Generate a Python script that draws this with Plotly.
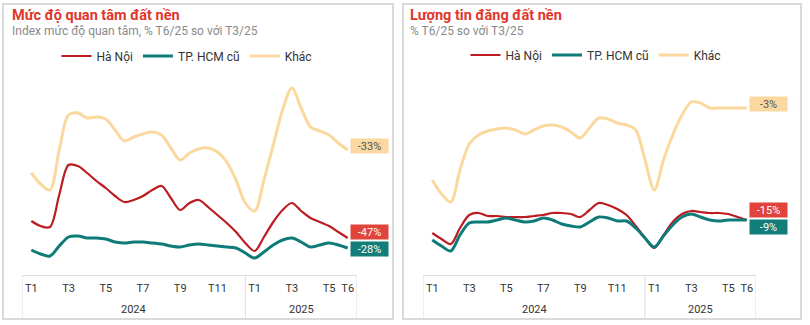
import plotly.graph_objects as go

# ---- data ----
months = [i * 0.5 for i in range(35)]  # 0 = T1/2024 ... 17 = T6/2025 (semi-monthly points)
tick_vals = [0, 2, 4, 6, 8, 10, 12, 14, 16, 17]
tick_text = ["T1", "T3", "T5", "T7", "T9", "T11", "T1", "T3", "T5", "T6"]
years = ["2024", "2025"]
series_names = ["Hà Nội", "TP. HCM cũ", "Khác"]

# Panel 1: Mức độ quan tâm (index)
interest_hn = [54, 49, 48, 80, 110, 109, 102, 94, 87, 79, 73, 75, 79, 85, 89, 77, 65, 72, 75, 68,
               60, 52, 43, 32, 24, 38, 53, 65, 72, 64, 57, 53, 49, 43, 37]
interest_hcm = [25, 21, 19, 29, 38, 39, 37, 37, 36, 33, 32, 33, 33, 32, 31, 29, 28, 30, 31, 30,
                29, 28, 27, 22, 17, 23, 30, 35, 37, 33, 28, 30, 32, 30, 27]
interest_other = [102, 91, 85, 125, 160, 162, 157, 158, 156, 145, 134, 138, 141, 143, 140, 127, 115, 122, 126, 127,
                  123, 113, 95, 72, 64, 95, 130, 165, 187, 167, 148, 144, 140, 132, 125]
interest_labels = ["-47%", "-28%", "-33%"]

# Panel 2: Lượng tin đăng
listing_hn = [42, 36, 31, 47, 60, 62, 59, 59, 58, 58, 58, 59, 60, 62, 62, 61, 58, 65, 72, 70,
              66, 60, 49, 37, 27, 40, 53, 61, 64, 63, 62, 62, 61, 58, 55]
listing_hcm = [35, 29, 24, 40, 52, 53, 53, 55, 57, 55, 53, 54, 57, 55, 51, 49, 48, 53, 58, 57,
               54, 54, 47, 37, 28, 39, 50, 58, 61, 58, 55, 54, 55, 55, 55]
listing_other = [95, 81, 73, 105, 131, 140, 144, 146, 147, 145, 141, 145, 149, 150, 148, 143, 137, 147, 157, 156,
                 152, 150, 145, 115, 85, 115, 140, 160, 173, 172, 167, 167, 167, 167, 167]
listing_labels = ["-15%", "-9%", "-3%"]

# ---- styles ----
W, H = 810, 325
FONT = "Roboto"
line_colors = ["#BC1B20", "#0F7B78", "#FAD89E"]
line_widths = [2.2, 3, 3]
box_colors = ["#E0443A", "#137D7A", "#FAD8A0"]
box_text_colors = ["white", "white", "#555555"]
interest_shift = [6, -1, 4]
listing_shift = [10, -7, 4]

def px(x):
    return x / W

def py(y):
    return 1 - y / H

fig = go.Figure()

panels = [
    dict(xa="x", ya="y", legend="legend", data=[interest_hn, interest_hcm, interest_other],
         labels=interest_labels, shifts=interest_shift),
    dict(xa="x2", ya="y2", legend="legend2", data=[listing_hn, listing_hcm, listing_other],
         labels=listing_labels, shifts=listing_shift),
]

annotations = []
for p in panels:
    for k, name in enumerate(series_names):
        fig.add_trace(go.Scatter(
            x=months, y=p["data"][k], name=name, mode="lines",
            line=dict(color=line_colors[k], width=line_widths[k], shape="spline", smoothing=0.9),
            xaxis=p["xa"], yaxis=p["ya"], legend=p["legend"], hoverinfo="skip",
        ))
    for k in range(3):
        annotations.append(dict(
            x=months[-1], y=p["data"][k][-1], xref=p["xa"], yref=p["ya"],
            text=p["labels"][k], showarrow=False, xanchor="left", yanchor="middle",
            xshift=2, yshift=p["shifts"][k], width=35, height=12,
            bgcolor=box_colors[k], borderpad=1,
            font=dict(family=FONT, size=11, color=box_text_colors[k]),
        ))

axis_common = dict(range=[-0.5, 17.5], tickmode="array", tickvals=tick_vals, ticktext=tick_text,
                   showgrid=False, zeroline=False, showline=True, linecolor="#DDDDDD", linewidth=1,
                   ticks="", ticklabelstandoff=3,
                   tickfont=dict(family=FONT, size=11, color="#333333"), fixedrange=True)
yaxis_common = dict(range=[0, 200], visible=False, fixedrange=True)

ydom = [py(275), py(75)]
fig.update_layout(
    width=W, height=H, margin=dict(l=0, r=0, t=0, b=0),
    paper_bgcolor="white", plot_bgcolor="white",
    font=dict(family=FONT),
    xaxis=dict(domain=[px(22), px(357)], anchor="y", **axis_common),
    yaxis=dict(domain=ydom, anchor="x", **yaxis_common),
    xaxis2=dict(domain=[px(423), px(756)], anchor="y2", **axis_common),
    yaxis2=dict(domain=ydom, anchor="x2", **yaxis_common),
    legend=dict(orientation="h", x=px(187), y=py(56), xanchor="center", yanchor="middle",
                font=dict(family=FONT, size=12, color="#333333"), itemwidth=30, bgcolor="rgba(0,0,0,0)"),
    legend2=dict(orientation="h", x=px(596), y=py(55), xanchor="center", yanchor="middle",
                 font=dict(family=FONT, size=12, color="#333333"), itemwidth=30, bgcolor="rgba(0,0,0,0)"),
    showlegend=True,
)

# titles
for (x0, title, sub) in [(10, "Mức độ quan tâm đất nền", "Index mức độ quan tâm, % T6/25 so với T3/25"),
                         (408, "Lượng tin đăng đất nền", "% T6/25 so với T3/25")]:
    annotations.append(dict(x=px(x0), y=py(15), xref="paper", yref="paper", text=title, showarrow=False,
                            xanchor="left", yanchor="middle",
                            font=dict(family=FONT, size=14.5, color="#E0362C", weight="bold")))
    annotations.append(dict(x=px(x0), y=py(31), xref="paper", yref="paper", text=sub, showarrow=False,
                            xanchor="left", yanchor="middle",
                            font=dict(family=FONT, size=12, color="#8A8A8A")))

# year labels
for xa in ["x", "x2"]:
    annotations.append(dict(x=5.5, y=py(309), xref=xa, yref="paper", text=years[0], showarrow=False,
                            yanchor="middle", font=dict(family=FONT, size=11, color="#333333")))
    annotations.append(dict(x=14.5, y=py(309), xref=xa, yref="paper", text=years[1], showarrow=False,
                            yanchor="middle", font=dict(family=FONT, size=11, color="#333333")))

shapes = []
# card borders
for (x0, x1) in [(3, 393), (403, 801)]:
    shapes.append(dict(type="rect", xref="paper", yref="paper", x0=px(x0), x1=px(x1), y0=py(319), y1=py(4),
                       line=dict(color="#DADADA", width=2), fillcolor="rgba(0,0,0,0)", layer="below"))
# year dividers
for xa in ["x", "x2"]:
    for xv in [-0.5, 11.5, 17.5]:
        shapes.append(dict(type="line", xref=xa, yref="paper", x0=xv, x1=xv, y0=py(318), y1=py(275),
                           line=dict(color="#DDDDDD", width=1)))

fig.update_layout(annotations=annotations, shapes=shapes)
fig.write_html("out.html")
